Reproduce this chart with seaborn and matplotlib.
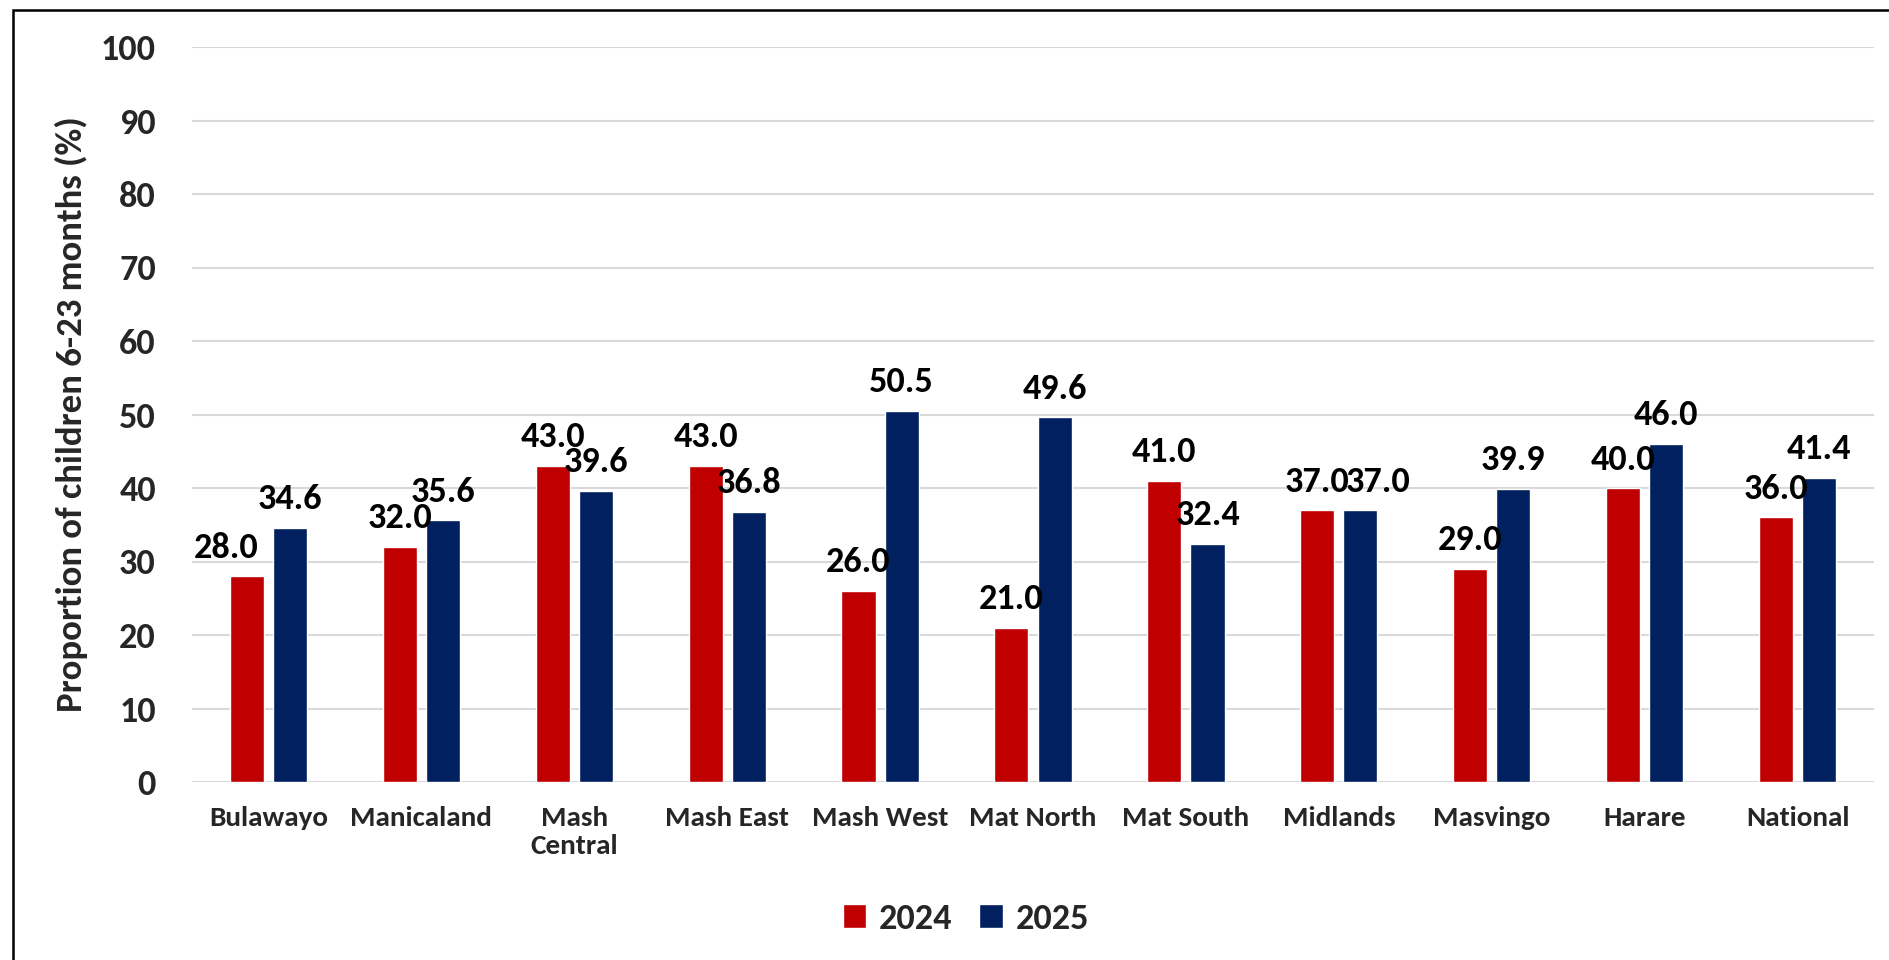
import numpy as np
import pandas as pd
import matplotlib
matplotlib.use("Agg")
import matplotlib.pyplot as plt
import seaborn as sns
from matplotlib.patches import Rectangle

provinces = ["Bulawayo", "Manicaland", "Mash\nCentral", "Mash East", "Mash West",
             "Mat North", "Mat South", "Midlands", "Masvingo", "Harare", "National"]
vals_2024 = [28.0, 32.0, 43.0, 43.0, 26.0, 21.0, 41.0, 37.0, 29.0, 40.0, 36.0]
vals_2025 = [34.6, 35.6, 39.6, 36.8, 50.5, 49.6, 32.4, 37.0, 39.9, 46.0, 41.4]
years = ["2024", "2025"]
colors = {"2024": "#C00000", "2025": "#002060"}

df = pd.DataFrame({
    "province": provinces * 2,
    "year": [years[0]] * len(provinces) + [years[1]] * len(provinces),
    "value": vals_2024 + vals_2025,
})

sns.set_theme(style="white")
# Carlito = metric clone of Calibri
plt.rcParams["font.family"] = ["Carlito", "DejaVu Sans"]
plt.rcParams["font.weight"] = "bold"

fig = plt.figure(figsize=(18.89, 9.6), dpi=100)
ax = fig.add_axes([192 / 1889, 1 - 782 / 960, (1874 - 192) / 1889, (782 - 47) / 960])

sns.barplot(data=df, x="province", y="value", hue="year", palette=colors,
            width=0.565, gap=0.21, saturation=1, ax=ax, zorder=3)

labels_by_year = []
for cont in ax.containers:
    labels_by_year.append(ax.bar_label(cont, fmt="%.1f", padding=9, fontsize=26,
                                       fontweight="bold", color="black"))
# a couple of labels are nudged sideways in the original
labels_by_year[0][0].xyann = (-15, 9)
labels_by_year[1][7].xyann = (13, 9)

ax.set_ylim(0, 100)
ax.set_yticks(np.arange(0, 101, 10))
ax.set_xlim(-0.5, len(provinces) - 0.5)
ax.yaxis.grid(True, color="#D9D9D9", linewidth=1.5, zorder=0)
ax.set_axisbelow(True)
for sp in ax.spines.values():
    sp.set_visible(False)
ax.tick_params(axis="y", length=0, pad=26, labelsize=26)
ax.tick_params(axis="x", length=0, pad=17, labelsize=21)
for lab in ax.get_xticklabels() + ax.get_yticklabels():
    lab.set_fontweight("bold")
ax.set_xlabel("")
ax.set_ylabel("Proportion of children 6-23 months (%)", fontsize=26.5, fontweight="bold", labelpad=9)

handles, labels = ax.get_legend_handles_labels()
ax.legend_.remove()
fig.legend(handles, labels, loc="center", bbox_to_anchor=(966 / 1889, 1 - 919 / 960),
           ncol=2, frameon=False, prop={"size": 26, "weight": "bold"},
           handlelength=0.65, handleheight=0.65, handletextpad=0.35, columnspacing=0.75)

fig.patches.append(Rectangle((13 / 1889, -0.1), 1.2, 1.1 - 10 / 960, transform=fig.transFigure,
                             fill=False, edgecolor="black", linewidth=1.8))

fig.savefig("out.png", dpi=100)
